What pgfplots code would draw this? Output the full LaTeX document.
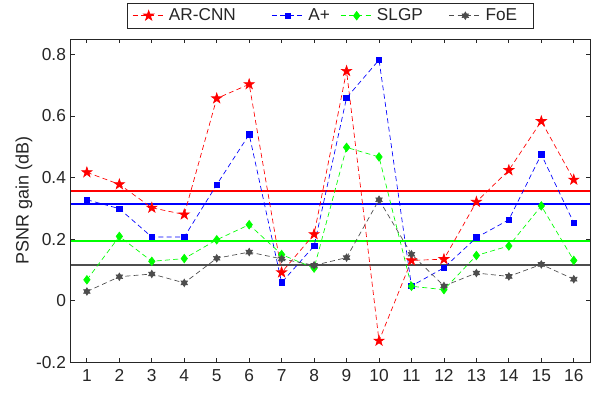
\documentclass[border=0pt]{standalone}
\usepackage{fontspec}
\setmainfont{Liberation Sans}
\usepackage{pgfplots}
\pgfplotsset{compat=1.18}
\definecolor{axgray}{RGB}{38,38,38}
\definecolor{foegray}{RGB}{77,77,77}
\definecolor{mygreen}{RGB}{0,255,0}
\definecolor{myred}{RGB}{255,0,0}
\definecolor{myblue}{RGB}{0,0,255}
\pgfdeclareplotmark{pentagram}{%
 \pgfpathmoveto{\pgfpointpolar{90}{\pgfplotmarksize}}%
 \pgfpathlineto{\pgfpointpolar{126}{0.382*\pgfplotmarksize}}%
 \pgfpathlineto{\pgfpointpolar{162}{\pgfplotmarksize}}%
 \pgfpathlineto{\pgfpointpolar{198}{0.382*\pgfplotmarksize}}%
 \pgfpathlineto{\pgfpointpolar{234}{\pgfplotmarksize}}%
 \pgfpathlineto{\pgfpointpolar{270}{0.382*\pgfplotmarksize}}%
 \pgfpathlineto{\pgfpointpolar{306}{\pgfplotmarksize}}%
 \pgfpathlineto{\pgfpointpolar{342}{0.382*\pgfplotmarksize}}%
 \pgfpathlineto{\pgfpointpolar{18}{\pgfplotmarksize}}%
 \pgfpathlineto{\pgfpointpolar{54}{0.382*\pgfplotmarksize}}%
 \pgfpathclose\pgfusepathqfillstroke}
\pgfdeclareplotmark{hexagram}{%
 \pgfpathmoveto{\pgfpointpolar{90}{\pgfplotmarksize}}%
 \pgfpathlineto{\pgfpointpolar{120}{0.577*\pgfplotmarksize}}%
 \pgfpathlineto{\pgfpointpolar{150}{\pgfplotmarksize}}%
 \pgfpathlineto{\pgfpointpolar{180}{0.577*\pgfplotmarksize}}%
 \pgfpathlineto{\pgfpointpolar{210}{\pgfplotmarksize}}%
 \pgfpathlineto{\pgfpointpolar{240}{0.577*\pgfplotmarksize}}%
 \pgfpathlineto{\pgfpointpolar{270}{\pgfplotmarksize}}%
 \pgfpathlineto{\pgfpointpolar{300}{0.577*\pgfplotmarksize}}%
 \pgfpathlineto{\pgfpointpolar{330}{\pgfplotmarksize}}%
 \pgfpathlineto{\pgfpointpolar{0}{0.577*\pgfplotmarksize}}%
 \pgfpathlineto{\pgfpointpolar{30}{\pgfplotmarksize}}%
 \pgfpathlineto{\pgfpointpolar{60}{0.577*\pgfplotmarksize}}%
 \pgfpathclose\pgfusepathqfillstroke}
\begin{document}
\begin{tikzpicture}
\begin{axis}[
 scale only axis, width=389.5pt, height=242.5pt,
 xmin=0.5, xmax=16.5, ymin=-0.2, ymax=0.85,
 xtick={1,2,3,4,5,6,7,8,9,10,11,12,13,14,15,16},
 ytick={-0.2,0,0.2,0.4,0.6,0.8},
 yticklabels={-0.2,0,0.2,0.4,0.6,0.8},
 axis line style={axgray, line width=0.6pt},
 tick style={axgray, line width=0.6pt},
 major tick length=3.3pt,
 tick align=inside,
 /pgf/number format/assume math mode=true,
 every tick label/.append style={font=\fontsize{13}{15}\selectfont, text=axgray},
 xticklabel style={yshift=-2pt},
 ylabel={PSNR gain (dB)},
 ylabel style={font=\fontsize{13.5}{15}\selectfont, text=axgray, yshift=-4pt},
 legend columns=4,
 legend cell align=left,
 legend style={at={(0.5,1)}, anchor=south, yshift=8pt, draw=axgray, fill=white,
   font=\fontsize{12.9}{14}\selectfont, text=axgray,
   nodes={inner xsep=0pt, inner ysep=2pt},
   inner xsep=3.75pt, inner ysep=2pt,
   /tikz/every odd column/.append style={column sep=3pt}},
 legend image code/.code={\draw[mark repeat=2,mark phase=2] plot coordinates {(0pt,0pt) (12pt,0pt) (24pt,0pt)};},
 every axis plot/.append style={line width=0.5pt, dash pattern=on 3.75pt off 2.5pt},
]
\addplot[myred, line width=1.5pt, solid, forget plot] coordinates {(0.5,0.356) (16.5,0.356)};
\addplot[myblue, line width=1.5pt, solid, forget plot] coordinates {(0.5,0.314) (16.5,0.314)};
\addplot[mygreen, line width=1.5pt, solid, forget plot] coordinates {(0.5,0.195) (16.5,0.195)};
\addplot[foegray, line width=1.5pt, solid, forget plot] coordinates {(0.5,0.116) (16.5,0.116)};
\addplot[myred, mark=pentagram, mark size=4pt, mark options={solid, fill=myred, draw=myred}] coordinates {
(1,0.417) (2,0.378) (3,0.302) (4,0.280) (5,0.657) (6,0.703) (7,0.092) (8,0.216)
(9,0.746) (10,-0.130) (11,0.131) (12,0.135) (13,0.321) (14,0.424) (15,0.583) (16,0.393)};
\addplot[myblue, mark=square*, mark size=2.1pt, mark options={solid, fill=myblue, draw=myblue}] coordinates {
(1,0.328) (2,0.299) (3,0.207) (4,0.207) (5,0.377) (6,0.540) (7,0.059) (8,0.178)
(9,0.659) (10,0.782) (11,0.048) (12,0.107) (13,0.205) (14,0.263) (15,0.475) (16,0.253)};
\addplot[mygreen, mark=diamond*, mark size=3.2pt, mark options={solid, fill=mygreen, draw=mygreen}] coordinates {
(1,0.068) (2,0.209) (3,0.128) (4,0.137) (5,0.198) (6,0.247) (7,0.150) (8,0.106)
(9,0.498) (10,0.467) (11,0.047) (12,0.036) (13,0.147) (14,0.178) (15,0.308) (16,0.131)};
\addplot[foegray, mark=hexagram, mark size=2.8pt, mark options={solid, fill=foegray, draw=foegray}] coordinates {
(1,0.030) (2,0.078) (3,0.087) (4,0.058) (5,0.138) (6,0.158) (7,0.136) (8,0.115)
(9,0.140) (10,0.328) (11,0.151) (12,0.048) (13,0.090) (14,0.079) (15,0.118) (16,0.070)};
\legend{\makebox[77pt][l]{AR-CNN},\makebox[24pt][l]{A+},\makebox[54pt][l]{SLGP},\makebox[32pt][l]{FoE}}
\coordinate (sw) at (rel axis cs:0,0);
\coordinate (ne) at (rel axis cs:1,1);
\end{axis}
\pgfresetboundingbox
\path[use as bounding box] ([xshift=-53pt,yshift=-22.3pt]sw) rectangle ([xshift=7.5pt,yshift=29.25pt]ne);
\end{tikzpicture}
\end{document}
